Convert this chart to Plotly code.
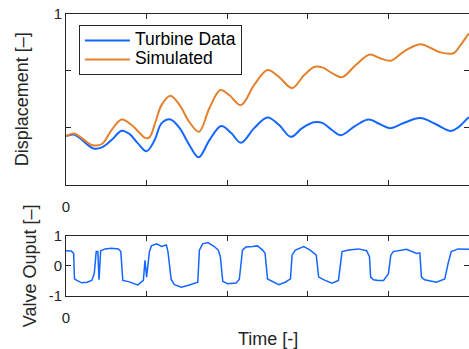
import plotly.graph_objects as go

# ---- data ----
t_turbine = [0.000, 0.019, 0.034, 0.068, 0.089, 0.113, 0.138, 0.158, 0.178, 0.200,
             0.220, 0.237, 0.259, 0.282, 0.306, 0.329, 0.356, 0.385, 0.410, 0.434,
             0.467, 0.500, 0.529, 0.558, 0.586, 0.615, 0.636, 0.660, 0.682, 0.717,
             0.751, 0.778, 0.804, 0.838, 0.879, 0.917, 0.955, 0.974, 0.996, 1.000]
d_turbine = [0.284, 0.294, 0.273, 0.212, 0.218, 0.261, 0.316, 0.296, 0.243, 0.196,
             0.261, 0.359, 0.382, 0.331, 0.232, 0.160, 0.261, 0.343, 0.302, 0.245,
             0.331, 0.394, 0.349, 0.280, 0.331, 0.365, 0.362, 0.320, 0.290, 0.343,
             0.381, 0.355, 0.331, 0.361, 0.390, 0.355, 0.314, 0.337, 0.387, 0.394]

t_sim = [0.000, 0.019, 0.039, 0.064, 0.089, 0.113, 0.138, 0.163, 0.183, 0.196,
         0.207, 0.222, 0.237, 0.259, 0.282, 0.306, 0.330, 0.356, 0.383, 0.405,
         0.434, 0.467, 0.500, 0.529, 0.561, 0.591, 0.617, 0.636, 0.660, 0.685,
         0.719, 0.754, 0.778, 0.806, 0.840, 0.879, 0.905, 0.929, 0.961, 0.979,
         0.996, 1.000]
d_sim = [0.284, 0.300, 0.273, 0.232, 0.238, 0.320, 0.382, 0.349, 0.302, 0.274,
         0.277, 0.367, 0.466, 0.521, 0.466, 0.367, 0.310, 0.449, 0.554, 0.525,
         0.466, 0.584, 0.672, 0.630, 0.566, 0.642, 0.691, 0.687, 0.654, 0.630,
         0.701, 0.762, 0.742, 0.726, 0.783, 0.823, 0.801, 0.775, 0.770, 0.818,
         0.874, 0.886]

t_valve = [0.000, 0.013, 0.019, 0.021, 0.027, 0.039, 0.052, 0.064, 0.070, 0.075,
           0.079, 0.082, 0.086, 0.097, 0.113, 0.130, 0.136, 0.141, 0.155, 0.167,
           0.178, 0.192, 0.196, 0.200, 0.202, 0.207, 0.212, 0.225, 0.237, 0.249,
           0.253, 0.261, 0.269, 0.286, 0.302, 0.327, 0.331, 0.339, 0.352, 0.368,
           0.378, 0.383, 0.389, 0.401, 0.422, 0.430, 0.438, 0.446, 0.463, 0.475,
           0.488, 0.494, 0.500, 0.516, 0.528, 0.544, 0.557, 0.561, 0.569, 0.590,
           0.606, 0.621, 0.627, 0.643, 0.660, 0.676, 0.685, 0.701, 0.726, 0.746,
           0.753, 0.756, 0.763, 0.775, 0.788, 0.800, 0.806, 0.812, 0.845, 0.870,
           0.878, 0.882, 0.890, 0.919, 0.940, 0.948, 0.956, 0.973, 0.994, 1.000]
v_valve = [0.51, 0.50, 0.42, -0.43, -0.48, -0.56, -0.54, -0.48, -0.26, 0.48,
           0.48, -0.46, 0.51, 0.57, 0.59, 0.57, 0.48, -0.48, -0.52, -0.57,
           -0.63, -0.48, 0.19, -0.37, -0.14, 0.48, 0.67, 0.74, 0.65, 0.70,
           0.48, -0.45, -0.62, -0.71, -0.65, -0.54, 0.53, 0.74, 0.78, 0.65,
           0.53, 0.31, -0.51, -0.59, -0.57, -0.45, 0.53, 0.63, 0.65, 0.67,
           0.53, 0.42, -0.43, -0.54, -0.62, -0.54, -0.43, 0.36, 0.53, 0.65,
           0.53, 0.36, -0.37, -0.48, -0.57, -0.48, 0.48, 0.53, 0.57, 0.51,
           0.31, -0.37, -0.46, -0.48, -0.48, -0.26, 0.36, 0.48, 0.56, 0.42,
           0.44, -0.37, -0.46, -0.54, -0.43, 0.08, 0.48, 0.57, 0.56, 0.56]

x_ticks = [0, 0.2, 0.4, 0.6, 0.8, 1]
x_ticktext = ["0", "", "", "", "", "1"]
y1_ticks = [0, 1 / 3, 2 / 3, 1]
y1_ticktext = ["", "", "", "1"]
y2_ticks = [-1, 0, 1]
y2_ticktext = ["-1", "0", "1"]

BLUE = "#1466FF"
ORANGE = "#E4812E"
AX = "#262626"
FONT = "Liberation Sans, Arial, Helvetica, sans-serif"


def legend_label(s):
    return "<span style='font-size:17.5px'>" + s + "</span>"


fig = go.Figure()
fig.add_trace(go.Scatter(x=t_turbine, y=d_turbine, mode="lines",
                         name=legend_label("Turbine Data"),
                         line=dict(color=BLUE, width=2, shape="spline", smoothing=1.0),
                         xaxis="x", yaxis="y"))
fig.add_trace(go.Scatter(x=t_sim, y=d_sim, mode="lines",
                         name=legend_label("Simulated"),
                         line=dict(color=ORANGE, width=2, shape="spline", smoothing=1.0),
                         xaxis="x", yaxis="y"))
fig.add_trace(go.Scatter(x=t_valve, y=v_valve, mode="lines", name="Valve",
                         line=dict(color=BLUE, width=1.5), showlegend=False,
                         xaxis="x2", yaxis="y2"))

common = dict(showline=True, linecolor=AX, linewidth=1, mirror="ticks",
              ticks="inside", ticklen=5, tickcolor=AX, tickwidth=1,
              showgrid=False, zeroline=False, automargin=False,
              tickfont=dict(family=FONT, size=15, color=AX))

fig.update_layout(
    width=469, height=349,
    margin=dict(l=66, r=0, t=14, b=53),
    paper_bgcolor="white", plot_bgcolor="white",
    font=dict(family=FONT, color=AX),
    xaxis=dict(domain=[0, 1], range=[0, 1], tickvals=x_ticks, ticktext=x_ticktext,
               anchor="y", ticklabelstandoff=8, **common),
    yaxis=dict(domain=[0.395, 1], range=[0, 1], tickvals=y1_ticks, ticktext=y1_ticktext,
               anchor="x", **common),
    xaxis2=dict(domain=[0, 1], range=[0, 1], tickvals=x_ticks, ticktext=x_ticktext,
                anchor="y2", ticklabelstandoff=8, **common),
    yaxis2=dict(domain=[0, 0.2128], range=[-1, 1], tickvals=y2_ticks, ticktext=y2_ticktext,
                anchor="x2", **common),
    legend=dict(x=0.032, y=0.961, xanchor="left", yanchor="top",
                bgcolor="white", bordercolor=AX, borderwidth=1,
                font=dict(family=FONT, size=12, color="black"),
                itemwidth=45, tracegroupgap=0),
    showlegend=True,
    annotations=[
        dict(text="Displacement [–]", xref="paper", yref="paper", x=-0.109, y=0.698,
             textangle=-90, showarrow=False, xanchor="center", yanchor="middle",
             font=dict(family=FONT, size=18, color=AX)),
        dict(text="Valve Ouput [–]", xref="paper", yref="paper", x=-0.089, y=0.106,
             textangle=-90, showarrow=False, xanchor="center", yanchor="middle",
             font=dict(family=FONT, size=18, color=AX)),
        dict(text="Time [-]", xref="paper", yref="paper", x=0.501, y=-0.154,
             showarrow=False, xanchor="center", yanchor="middle",
             font=dict(family=FONT, size=18, color=AX)),
    ],
)

fig.write_html("out.html",
               config={"displayModeBar": False},
               post_script="document.body.style.margin='0';document.body.style.overflow='hidden';")
